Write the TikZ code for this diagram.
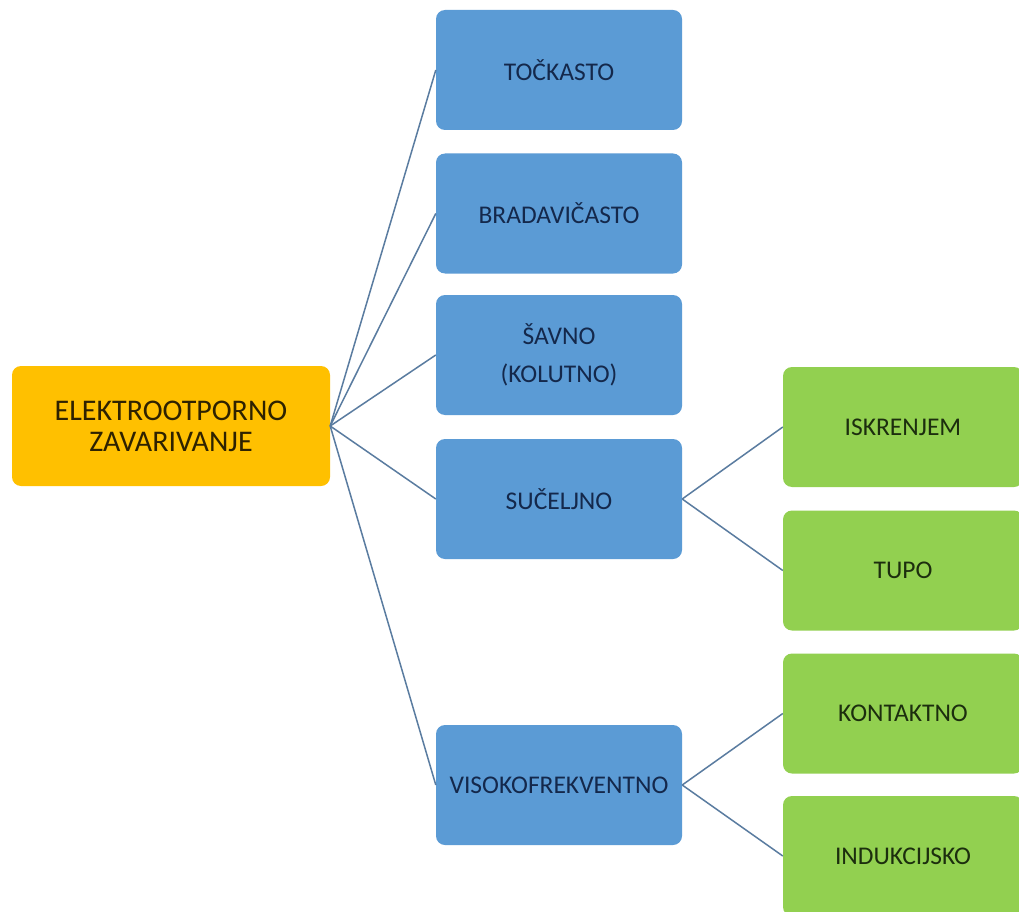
\documentclass[tikz,border=0pt]{standalone}
\usepackage{fontspec}
\setmainfont{Carlito}
\definecolor{gold}{HTML}{FFC000}
\definecolor{bluebox}{HTML}{5B9BD5}
\definecolor{greenbox}{HTML}{92D050}
\definecolor{bluetext}{HTML}{14284B}
\definecolor{greentext}{HTML}{1C2E0E}
\definecolor{roottext}{HTML}{2E2200}
\definecolor{linkcol}{HTML}{5A7CA0}
\tikzset{
  rootbox/.style={fill=gold, rounded corners=9pt, minimum width=318pt, minimum height=120pt, inner sep=0pt, align=center, text=roottext, font=\fontsize{30}{31}\selectfont},
  midbox/.style={fill=bluebox, rounded corners=9pt, minimum width=246pt, minimum height=120pt, inner sep=0pt, align=center, text=bluetext, font=\fontsize{25.5}{38}\selectfont},
  leafbox/.style={fill=greenbox, rounded corners=9pt, minimum width=240pt, minimum height=120pt, inner sep=0pt, align=center, text=greentext, font=\fontsize{25.5}{38}\selectfont},
  link/.style={draw=linkcol, line width=1.5pt}
}
\begin{document}
\begin{tikzpicture}[x=1pt,y=-1pt]
\useasboundingbox (0,0) rectangle (1019,912);
\clip (0,0) rectangle (1019,912);
\fill[white] (0,0) rectangle (1019,912);
\node[rootbox] (root) at (171,426) {ELEKTROOTPORNO\\ZAVARIVANJE};
\node[midbox] (b1) at (559,70) {TOČKASTO};
\node[midbox] (b2) at (559,213.5) {BRADAVIČASTO};
\node[midbox] (b3) at (559,355) {ŠAVNO\\(KOLUTNO)};
\node[midbox] (b4) at (559,499) {SUČELJNO};
\node[midbox] (b5) at (559,785) {VISOKOFREKVENTNO};
\node[leafbox] (g1) at (903,427) {ISKRENJEM};
\node[leafbox] (g2) at (903,570.5) {TUPO};
\node[leafbox] (g3) at (903,713.5) {KONTAKTNO};
\node[leafbox] (g4) at (903,856) {INDUKCIJSKO};
\foreach \b in {b1,b2,b3,b4,b5} \draw[link] (root.east) -- (\b.west);
\draw[link] (b4.east) -- (g1.west);
\draw[link] (b4.east) -- (g2.west);
\draw[link] (b5.east) -- (g3.west);
\draw[link] (b5.east) -- (g4.west);
\end{tikzpicture}
\end{document}
